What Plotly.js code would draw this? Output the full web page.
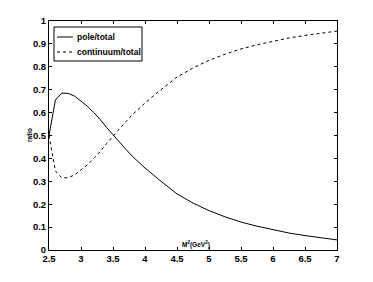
<!DOCTYPE html>
<html><head><meta charset="utf-8">
<script src="https://cdn.plot.ly/plotly-3.0.1.min.js"></script>
<style>body{margin:0;padding:0;background:#fff}#c{width:373px;height:282px}</style>
</head><body><div id="c"></div>
<script>
const m2 = [2.5,2.6,2.7,2.8,2.9,3.0,3.1,3.2,3.3,3.4,3.5,3.6,3.7,3.8,3.9,4.0,4.25,4.5,4.75,5.0,5.25,5.5,5.75,6.0,6.25,6.5,6.75,7.0];
const poleTotal = [0.50,0.655,0.685,0.684,0.672,0.652,0.628,0.600,0.570,0.535,0.502,0.470,0.440,0.410,0.385,0.358,0.300,0.245,0.205,0.172,0.145,0.122,0.104,0.088,0.074,0.063,0.053,0.044];
const contTotal = [0.50,0.345,0.315,0.316,0.328,0.348,0.372,0.400,0.430,0.465,0.498,0.530,0.560,0.590,0.615,0.642,0.700,0.755,0.795,0.828,0.855,0.878,0.896,0.912,0.926,0.937,0.947,0.956];
const seriesNames = ['pole/total','continuum/total'];
const xTitle = 'M<sup>2</sup>(GeV<sup>2</sup>)';
const yTitle = 'ratio';

const FAM = 'Liberation Sans, Arial, sans-serif';
const tickFnt = {family:FAM, size:9.5, color:'#000', weight:'bold'};
const legFnt = {family:FAM, size:8.5, color:'#000', weight:'bold'};
const smallFnt = {family:FAM, size:6.5, color:'#000', weight:'bold'};
const dashes = [null, '3px,3px'];
const traces = [
  {x:m2, y:poleTotal, name:seriesNames[0], mode:'lines', line:{color:'#000', width:1}},
  {x:m2, y:contTotal, name:seriesNames[1], mode:'lines', line:{color:'#000', width:1, dash:dashes[1]}}
];
// plot area in px: left 49, right 337, top 21, bottom 250
const W = 288, H = 229;
const px = v => (v - 49) / W;
const py = v => (250 - v) / H;
const shapes = [
  {type:'rect', xref:'paper', yref:'paper', x0:px(54), x1:px(142), y0:py(61), y1:py(27), line:{color:'#000', width:1}, fillcolor:'#fff', layer:'above'},
  {type:'line', xref:'paper', yref:'paper', x0:px(57), x1:px(73), y0:py(37), y1:py(37), line:{color:'#000', width:1}, layer:'above'},
  {type:'line', xref:'paper', yref:'paper', x0:px(57), x1:px(73), y0:py(52), y1:py(52), line:{color:'#000', width:1, dash:dashes[1]}, layer:'above'}
];
const ax = {showline:true, linecolor:'#000', linewidth:1, mirror:'ticks', ticks:'inside', ticklen:3, tickcolor:'#000', showgrid:false, zeroline:false, tickfont:tickFnt};
const layout = {
  width:373, height:282,
  margin:{l:49, r:36, t:21, b:32},
  paper_bgcolor:'#fff', plot_bgcolor:'#fff',
  font:tickFnt,
  xaxis:Object.assign({}, ax, {range:[2.5,7], dtick:0.5, tick0:2.5}),
  yaxis:Object.assign({}, ax, {range:[0,1], dtick:0.1, tick0:0}),
  showlegend:false,
  shapes:shapes,
  annotations:[
    {text:seriesNames[0], xref:'paper', yref:'paper', x:px(75), y:py(37), xanchor:'left', yanchor:'middle', showarrow:false, font:legFnt},
    {text:seriesNames[1], xref:'paper', yref:'paper', x:px(75), y:py(52), xanchor:'left', yanchor:'middle', showarrow:false, font:legFnt},
    {text:xTitle, xref:'paper', yref:'paper', x:px(196), y:py(244), xanchor:'center', yanchor:'middle', showarrow:false, font:smallFnt},
    {text:yTitle, xref:'paper', yref:'paper', x:px(29), y:py(135), xanchor:'center', yanchor:'middle', textangle:-90, showarrow:false, font:smallFnt}
  ]
};
Plotly.newPlot('c', traces, layout, {staticPlot:true, displayModeBar:false});
</script></body></html>
